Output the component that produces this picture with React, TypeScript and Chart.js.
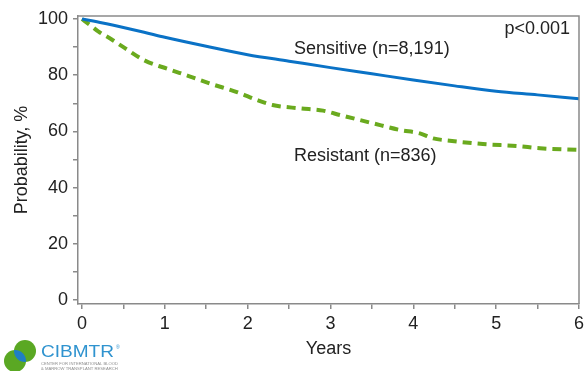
import { useEffect, useRef } from "react";
import { Chart, registerables } from "chart.js";
Chart.register(...registerables);

const sensitiveYears = [0, 0.25, 0.5, 0.75, 1, 1.5, 2, 2.5, 3, 3.5, 4, 4.5, 5, 5.5, 6];
const sensitiveValues = [100, 98.6, 97, 95.3, 93.5, 90.3, 87.3, 85, 82.7, 80.5, 78.3, 76.2, 74.3, 73, 71.6];

const resistantYears = [0, 0.1, 0.2, 0.35, 0.5, 0.76, 1.04, 1.28, 1.56, 1.88, 2.11, 2.3, 2.63, 2.91, 3.12, 3.51, 3.84, 4.08, 4.24, 4.44, 4.84, 5.25, 5.53, 6];
const resistantValues = [100, 97.8, 95.5, 92.9, 90, 85.2, 82.2, 79.8, 76.9, 73.9, 71.2, 69.4, 68.2, 67.4, 65.8, 62.9, 60.5, 59.3, 57.5, 56.7, 55.5, 54.8, 54, 53.4];

const yTickValues = [0, 10, 20, 30, 40, 50, 60, 70, 80, 90, 100];
const xTickValues = [0, 0.5, 1, 1.5, 2, 2.5, 3, 3.5, 4, 4.5, 5, 5.5, 6];

const seriesLabels = ["Sensitive (n=8,191)", "Resistant (n=836)"];
const pValueText = "p<0.001";

const FONT = "'Liberation Sans', Arial, sans-serif";
const AXIS_GRAY = "#8a8a8a";
const TEXT = "#222222";

const annotatePlugin = {
  id: "annotate",
  afterDraw(chart: any) {
    const { ctx, chartArea } = chart;
    const xs = chart.scales.x;
    const ys = chart.scales.y;
    ctx.save();
    // top & right frame
    ctx.strokeStyle = AXIS_GRAY;
    ctx.lineWidth = 1.5;
    ctx.beginPath();
    ctx.moveTo(chartArea.left, chartArea.top);
    ctx.lineTo(chartArea.right, chartArea.top);
    ctx.lineTo(chartArea.right, chartArea.bottom);
    ctx.stroke();

    // labels
    ctx.fillStyle = TEXT;
    ctx.font = `18px ${FONT}`;
    ctx.textBaseline = "middle";
    ctx.textAlign = "left";
    ctx.fillText(seriesLabels[0], xs.getPixelForValue(2.56), ys.getPixelForValue(89.4));
    ctx.fillText(seriesLabels[1], xs.getPixelForValue(2.56), ys.getPixelForValue(51.3));
    ctx.textAlign = "right";
    ctx.fillText(pValueText, chartArea.right - 9, ys.getPixelForValue(96.5));

    // logo
    const c1 = [25, 351, 11];
    const c2 = [15, 361, 11];
    ctx.fillStyle = "#5aa823";
    ctx.beginPath();
    ctx.arc(c1[0], c1[1], c1[2], 0, Math.PI * 2);
    ctx.fill();
    ctx.beginPath();
    ctx.arc(c2[0], c2[1], c2[2], 0, Math.PI * 2);
    ctx.fill();
    ctx.save();
    ctx.beginPath();
    ctx.arc(c1[0], c1[1], c1[2], 0, Math.PI * 2);
    ctx.clip();
    ctx.fillStyle = "#1f7fc4";
    ctx.beginPath();
    ctx.arc(c2[0], c2[1], c2[2], 0, Math.PI * 2);
    ctx.fill();
    ctx.restore();

    ctx.fillStyle = "#2f93cf";
    ctx.textAlign = "left";
    ctx.textBaseline = "alphabetic";
    ctx.font = `17px ${FONT}`;
    const w = ctx.measureText("CIBMTR").width;
    ctx.save();
    ctx.translate(41, 357);
    ctx.scale(73 / w, 1);
    ctx.fillText("CIBMTR", 0, 0);
    ctx.restore();
    ctx.font = `5px ${FONT}`;
    ctx.fillText("®", 116, 349);
    ctx.fillStyle = "#8e8e8e";
    ctx.font = `4.2px ${FONT}`;
    ctx.fillText("CENTER FOR INTERNATIONAL BLOOD", 41, 365, 77);
    ctx.fillText("& MARROW TRANSPLANT RESEARCH", 41, 369.5, 77);
    ctx.restore();
  },
};

function App() {
  const ref = useRef<HTMLCanvasElement | null>(null);
  useEffect(() => {
    if (!ref.current) return;
    const chart = new Chart(ref.current, {
      type: "line",
      data: {
        datasets: [
          {
            label: seriesLabels[0],
            data: sensitiveYears.map((x, i) => ({ x, y: sensitiveValues[i] })),
            borderColor: "#0a72c6",
            borderWidth: 3,
            pointRadius: 0,
            cubicInterpolationMode: "monotone",
          },
          {
            label: seriesLabels[1],
            data: resistantYears.map((x, i) => ({ x, y: resistantValues[i] })),
            borderColor: "#6aaa1e",
            borderWidth: 4,
            borderDash: [9, 6],
            pointRadius: 0,
            cubicInterpolationMode: "monotone",
          },
        ],
      },
      options: {
        animation: false,
        responsive: true,
        maintainAspectRatio: false,
        layout: { padding: { top: 16, right: 9, bottom: 0, left: 0 } },
        plugins: { legend: { display: false }, tooltip: { enabled: false } },
        scales: {
          x: {
            type: "linear",
            min: -0.048,
            max: 6,
            afterFit: (s: any) => {
              s.height = 67;
            },
            afterBuildTicks: (s: any) => {
              s.ticks = xTickValues.map((v) => ({ value: v }));
            },
            grid: { drawOnChartArea: false, drawTicks: true, tickLength: 5, color: AXIS_GRAY, lineWidth: 1.5 },
            border: { color: AXIS_GRAY, width: 1.5 },
            ticks: {
              autoSkip: false,
              maxRotation: 0,
              padding: 4,
              color: TEXT,
              font: { family: FONT, size: 18 },
              callback: (v: any) => (Number.isInteger(v) ? String(v) : ""),
            },
            title: {
              display: true,
              text: "Years",
              color: TEXT,
              font: { family: FONT, size: 18 },
              padding: { top: 0, bottom: 11 },
            },
          },
          y: {
            min: -1.42,
            max: 101.07,
            afterFit: (s: any) => {
              s.width = 78;
            },
            afterBuildTicks: (s: any) => {
              s.ticks = yTickValues.map((v) => ({ value: v }));
            },
            grid: { drawOnChartArea: false, drawTicks: true, tickLength: 5, color: AXIS_GRAY, lineWidth: 1.5 },
            border: { color: AXIS_GRAY, width: 1.5 },
            ticks: {
              autoSkip: false,
              padding: 5,
              color: TEXT,
              font: { family: FONT, size: 18 },
              callback: (v: any) => (v % 20 === 0 ? String(v) : ""),
            },
            title: {
              display: true,
              text: "Probability, %",
              color: TEXT,
              font: { family: FONT, size: 18 },
              padding: { top: 11, bottom: 0 },
            },
          },
        },
      },
      plugins: [annotatePlugin],
    } as any);
    return () => chart.destroy();
  }, []);
  return (
    <div style={{ position: "absolute", left: 0, top: 0, width: 588, height: 371, background: "#fff" }}>
      <canvas ref={ref} />
    </div>
  );
}

export default App;
